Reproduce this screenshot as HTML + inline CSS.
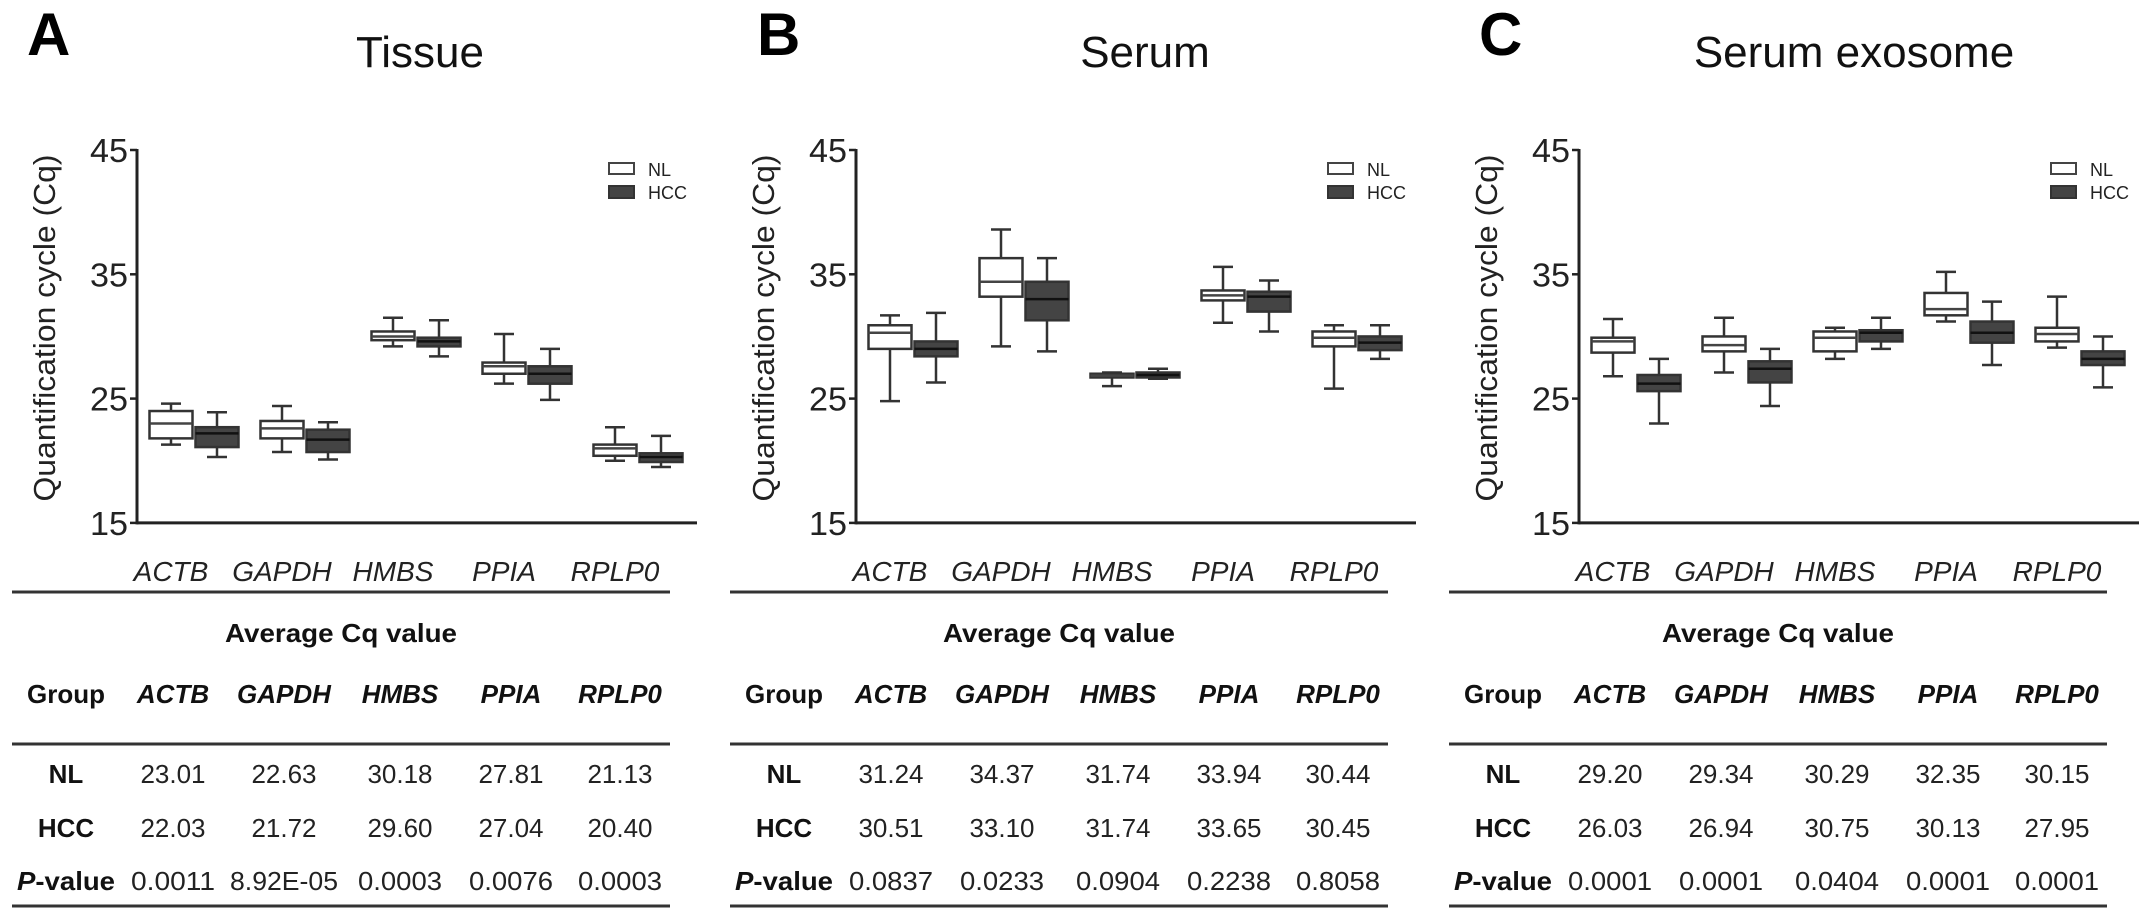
<!DOCTYPE html>
<html><head><meta charset="utf-8">
<style>
html,body{margin:0;padding:0;background:#fff;}
svg{display:block;font-family:"Liberation Sans",Arial,sans-serif;}
</style></head>
<body>
<svg id="fig" width="2150" height="921" viewBox="0 0 2150 921" xmlns="http://www.w3.org/2000/svg"></svg>
<script>
// ---- data ----
const genes = ["ACTB","GAPDH","HMBS","PPIA","RPLP0"];
const panelTitles = ["Tissue","Serum","Serum exosome"];
const panelLetters = ["A","B","C"];
const yTicks = [15,25,35,45];
// box stats: [whiskerHigh, q3, median, q1, whiskerLow]
const tissueNL  = [[24.6,24.0,23.0,21.8,21.3],[24.4,23.2,22.6,21.8,20.7],[31.5,30.4,30.0,29.7,29.2],[30.2,27.9,27.6,27.0,26.2],[22.7,21.3,21.0,20.4,20.0]];
const tissueHCC = [[23.9,22.7,22.2,21.1,20.3],[23.1,22.5,21.7,20.7,20.1],[31.3,29.9,29.6,29.2,28.4],[29.0,27.6,27.0,26.2,24.9],[22.0,20.6,20.3,19.9,19.5]];
const serumNL   = [[31.7,30.9,30.3,29.0,24.8],[38.6,36.3,34.4,33.2,29.2],[27.1,27.0,26.85,26.7,26.0],[35.6,33.7,33.3,32.9,31.1],[30.9,30.4,29.9,29.2,25.8]];
const serumHCC  = [[31.9,29.6,29.0,28.4,26.3],[36.3,34.4,33.0,31.3,28.8],[27.4,27.1,26.9,26.7,26.6],[34.5,33.6,33.2,32.0,30.4],[30.9,30.0,29.5,28.9,28.2]];
const exoNL     = [[31.4,29.9,29.6,28.7,26.8],[31.5,30.0,29.3,28.8,27.1],[30.7,30.4,29.9,28.8,28.2],[35.2,33.5,32.2,31.7,31.2],[33.2,30.7,30.2,29.6,29.1]];
const exoHCC    = [[28.2,26.9,26.2,25.6,23.0],[29.0,28.0,27.4,26.3,24.4],[31.5,30.5,30.3,29.6,29.0],[32.8,31.2,30.3,29.5,27.7],[30.0,28.8,28.2,27.7,25.9]];
// table values
const tissueRowNL  = ["23.01","22.63","30.18","27.81","21.13"];
const tissueRowHCC = ["22.03","21.72","29.60","27.04","20.40"];
const tissueRowP   = ["0.0011","8.92E-05","0.0003","0.0076","0.0003"];
const serumRowNL   = ["31.24","34.37","31.74","33.94","30.44"];
const serumRowHCC  = ["30.51","33.10","31.74","33.65","30.45"];
const serumRowP    = ["0.0837","0.0233","0.0904","0.2238","0.8058"];
const exoRowNL     = ["29.20","29.34","30.29","32.35","30.15"];
const exoRowHCC    = ["26.03","26.94","30.75","30.13","27.95"];
const exoRowP      = ["0.0001","0.0001","0.0404","0.0001","0.0001"];

const NS="http://www.w3.org/2000/svg";
const svg=document.getElementById('fig');
function mk(tag,attrs,parent,text){const e=document.createElementNS(NS,tag);for(const k in attrs)e.setAttribute(k,attrs[k]);if(text!==undefined)e.textContent=text;(parent||svg).appendChild(e);return e;}

const panels=[
 {axisX:137, tableX:12, nl:tissueNL, hcc:tissueHCC, rows:[tissueRowNL,tissueRowHCC,tissueRowP], letterX:27, titleX:420, slug:"tissue"},
 {axisX:856, tableX:730, nl:serumNL, hcc:serumHCC, rows:[serumRowNL,serumRowHCC,serumRowP], letterX:757, titleX:1145, slug:"serum"},
 {axisX:1579, tableX:1449, nl:exoNL, hcc:exoHCC, rows:[exoRowNL,exoRowHCC,exoRowP], letterX:1479, titleX:1854, slug:"exosome"}
];
const Y45=150, PER=12.43;
function yScale(v){return Y45+(45-v)*PER;}
function gX(p,i){return p.axisX+57+111*i;}
const colOff=[54,161,272,388,499,608];
const FS=26;

panels.forEach((p,pi)=>{
  const g=mk('g',{});
  
  
  const L=mk('text',{x:p.letterX,y:55,'font-size':60,'font-weight':'bold',fill:'#000'},g,panelLetters[pi]);
  
  
  const T=mk('text',{x:p.titleX,y:67,'font-size':44,'text-anchor':'middle',fill:'#111'},g,panelTitles[pi]);
  
  
  const yt=mk('text',{x:0,y:0,'font-size':31,'text-anchor':'middle',fill:'#222',transform:`translate(${p.axisX-82},328) rotate(-90)`,textLength:347,lengthAdjust:'spacingAndGlyphs'},g,'Quantification cycle (Cq)');
  
  
  const ax=mk('line',{x1:p.axisX,y1:yScale(45)-1,x2:p.axisX,y2:yScale(15)+1.5,stroke:'#222','stroke-width':3},g);
  
  
  const xa=mk('line',{x1:p.axisX,y1:yScale(15),x2:p.axisX+560,y2:yScale(15),stroke:'#222','stroke-width':3},g);
  
  
  yTicks.forEach(t=>{
    const y=yScale(t);
    const tk=mk('line',{x1:p.axisX-7,y1:y,x2:p.axisX,y2:y,stroke:'#222','stroke-width':2.5},g);
    
    
    const tl=mk('text',{x:p.axisX-9,y:y+12,'font-size':33,'text-anchor':'end',fill:'#222',textLength:38,lengthAdjust:'spacingAndGlyphs'},g,String(t));
    
    
  });
  genes.forEach((gn,i)=>{
    const c=gX(p,i);
    [[p.nl[i],c-23,'#fff','nl'],[p.hcc[i],c+23,'#444','hcc']].forEach(([s,x,fill,tag])=>{
      const bg=mk('g',{},g);
      
      
      const w=43;
      mk('line',{x1:x,y1:yScale(s[0]),x2:x,y2:yScale(s[1]),stroke:'#333','stroke-width':2.5},bg);
      mk('line',{x1:x,y1:yScale(s[3]),x2:x,y2:yScale(s[4]),stroke:'#333','stroke-width':2.5},bg);
      mk('line',{x1:x-10,y1:yScale(s[0]),x2:x+10,y2:yScale(s[0]),stroke:'#333','stroke-width':2.5},bg);
      mk('line',{x1:x-10,y1:yScale(s[4]),x2:x+10,y2:yScale(s[4]),stroke:'#333','stroke-width':2.5},bg);
      mk('rect',{x:x-w/2,y:yScale(s[1]),width:w,height:Math.max(1,yScale(s[3])-yScale(s[1])),fill:fill,stroke:'#333','stroke-width':2.5},bg);
      mk('line',{x1:x-w/2,y1:yScale(s[2]),x2:x+w/2,y2:yScale(s[2]),stroke:tag==='nl'?'#444':'#111','stroke-width':2.5},bg);
    });
    const xl=mk('text',{x:c-23,y:581,'font-size':28,'font-style':'italic','text-anchor':'middle',fill:'#222'},g,gn);
    
    
  });
  const lg=mk('g',{},g);
  
  
  mk('rect',{x:p.axisX+472,y:163,width:25,height:11,fill:'#fff',stroke:'#444','stroke-width':2},lg);
  mk('rect',{x:p.axisX+472,y:186,width:25,height:12,fill:'#444',stroke:'#333','stroke-width':2},lg);
  mk('text',{x:p.axisX+511,y:176,'font-size':18,fill:'#222'},lg,'NL');
  mk('text',{x:p.axisX+511,y:199,'font-size':18,fill:'#222'},lg,'HCC');
  const tb=mk('g',{},g);
  
  
  const tx=p.tableX, tw=658;
  [592,744,906].forEach(y=>mk('line',{x1:tx,y1:y,x2:tx+tw,y2:y,stroke:'#333','stroke-width':3},tb));
  mk('text',{x:tx+329,y:642,'font-size':FS,'font-weight':'bold','text-anchor':'middle',fill:'#111',textLength:232,lengthAdjust:'spacingAndGlyphs'},tb,'Average Cq value');
  mk('text',{x:tx+colOff[0],y:703,'font-size':FS,'font-weight':'bold','text-anchor':'middle',fill:'#111'},tb,'Group');
  genes.forEach((gn,i)=>mk('text',{x:tx+colOff[i+1],y:703,'font-size':FS,'font-weight':'bold','font-style':'italic','text-anchor':'middle',fill:'#111'},tb,gn));
  const rowY=[783,837,890];
  mk('text',{x:tx+colOff[0],y:rowY[0],'font-size':FS,'font-weight':'bold','text-anchor':'middle',fill:'#111'},tb,'NL');
  mk('text',{x:tx+colOff[0],y:rowY[1],'font-size':FS,'font-weight':'bold','text-anchor':'middle',fill:'#111'},tb,'HCC');
  const pv=mk('text',{x:tx+colOff[0],y:rowY[2],'font-size':FS,'font-weight':'bold','text-anchor':'middle',fill:'#111',textLength:98,lengthAdjust:'spacingAndGlyphs'},tb);
  mk('tspan',{'font-style':'italic'},pv,'P');
  mk('tspan',{},pv,'-value');
  p.rows.forEach((row,r)=>row.forEach((v,i)=>{
    const a={x:tx+colOff[i+1],y:rowY[r],'font-size':FS,'text-anchor':'middle',fill:'#222'};
    if(v.length>6){a.textLength=108;a.lengthAdjust='spacingAndGlyphs';}
    else if(v.length===6){a.textLength=84;a.lengthAdjust='spacingAndGlyphs';}
    mk('text',a,tb,v);
  }));
});
</script>
</body></html>
